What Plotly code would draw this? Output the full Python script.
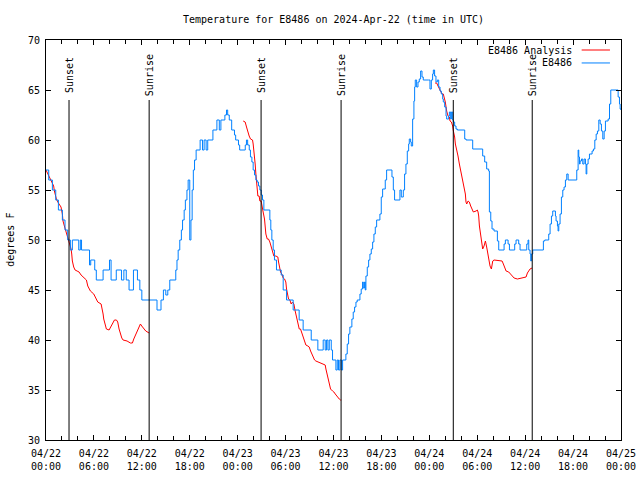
import plotly.graph_objects as go
import pandas as pd

START = pd.Timestamp("2024-04-22 00:00")

# Observed station temperature (hours since 04/22 00:00 UTC, degrees F)
obs_hours = [0.0, 0.34, 0.8, 1.22, 1.55, 2.05, 2.38, 2.72, 3.05, 3.3, 4.1, 4.3, 4.45, 5.45, 5.6, 6.1, 6.3, 7.15, 7.95, 8.15,
             8.8, 9.45, 9.75, 10.05, 10.4, 10.95, 11.45, 11.75, 12.0, 13.9, 14.4, 14.7, 15.0, 15.25, 15.5, 16.25, 16.4,
             16.55, 16.75, 16.95, 17.1, 17.3, 17.45, 17.65, 17.8, 18.0, 18.15, 18.3, 18.45, 18.6, 18.8, 19.3, 19.6, 19.8,
             20.05, 20.25, 20.9, 21.4, 21.7, 21.9, 22.4, 22.6, 22.75, 22.95, 23.25, 23.6, 23.75, 24.1, 24.25, 24.95, 25.1,
             25.25, 25.45, 25.6, 25.78, 25.94, 26.11, 26.28, 26.44, 26.61, 26.78, 26.95, 27.11, 27.28, 28.03, 28.15, 28.28,
             28.45, 28.61, 28.86, 29.45, 29.7, 30.12, 30.95, 31.7, 32.2, 33.21, 34.04, 34.71, 34.96, 35.13, 35.3, 35.47,
             35.72, 35.88, 36.3, 36.47, 36.63, 36.8, 36.97, 37.14, 37.55, 37.72, 37.89, 38.05, 38.3, 38.47, 38.64, 38.81,
             38.97, 39.31, 39.47, 39.64, 39.73, 39.89, 39.98, 40.06, 40.23, 40.4, 40.56, 40.73, 40.9, 41.06, 41.23, 41.4,
             41.81, 41.98, 42.15, 42.48, 42.65, 43.32, 43.49, 43.65, 44.32, 44.49, 44.74, 44.9, 45.07, 45.24, 45.41, 45.49,
             45.66, 45.74, 45.91, 46.07, 46.16, 46.24, 46.41, 46.58, 46.74, 46.91, 47.08, 47.24, 47.91, 48.08, 48.25,
             48.41, 48.5, 48.66, 48.83, 49.0, 49.17, 49.34, 49.5, 49.67, 49.75, 49.92, 50.09, 50.17, 50.42, 50.51, 50.67,
             50.76, 50.92, 51.01, 51.17, 51.34, 51.51, 52.43, 52.6, 53.43, 54.68, 54.93, 55.18, 55.43, 55.52, 55.69, 55.85,
             56.1, 56.52, 56.69, 57.36, 57.52, 57.86, 58.03, 58.69, 58.86, 59.19, 59.36, 60.2, 60.36, 60.45, 60.61, 60.7,
             60.78, 60.95, 62.28, 62.45, 62.95, 63.12, 63.29, 63.45, 63.79, 63.87, 64.04, 64.12, 64.21, 64.37, 64.54,
             64.71, 64.87, 65.04, 65.21, 65.38, 66.46, 66.63, 66.71, 66.8, 66.88, 67.05, 67.21, 67.38, 67.55, 67.63, 67.72,
             67.88, 68.05, 68.38, 68.55, 68.72, 68.89, 69.05, 69.22, 69.39, 69.55, 69.72, 69.89, 70.05, 70.39, 70.56,
             70.72, 71.47, 71.64, 71.81, 71.89, 72.0]
obs_temps = [57, 56, 55, 54, 53, 52, 51, 50, 49, 50, 49, 50, 49, 47.5, 48, 47, 46, 47, 48, 46,
             47, 46, 47, 46, 45, 47, 46, 45, 44, 43, 44, 45, 44.5, 45, 46, 47, 48,
             49, 50, 51, 52, 53, 54, 55, 56, 50, 52, 55, 57, 58, 59, 60, 59, 60,
             59, 60, 61, 62, 61, 62, 62.5, 63, 62.5, 62, 61, 60.5, 60, 59.5, 59, 59.5, 60,
             59.5, 59, 58.3, 57.8, 57, 56.5, 56, 55.8, 55.4, 55, 54.5, 54, 53, 52, 51, 50,
             49, 48, 47, 46.5, 45, 44, 43, 42, 41, 40, 39, 40, 39, 40, 39, 40,
             39, 38, 37, 38, 37, 38, 37, 38, 38.6, 39.6, 40.6, 41.3, 42.1, 42.8, 43.3, 43.8,
             44, 44.6, 45.1, 45.8, 45.2, 45.8, 45, 46.4, 47.3, 48, 48.6, 49.1, 49.8, 50.6, 51.3, 52,
             52.6, 54.3, 55.1, 56, 57, 56.3, 55, 54, 55, 54.3, 55, 56.6, 57.6, 58.9, 59.6, 60.1,
             59.8, 59.4, 62.1, 63.9, 65.3, 66, 65.3, 65.8, 66.1, 66.9, 66.3, 66, 66, 65.1, 66,
             66.6, 67, 66.4, 65.8, 66, 65.3, 64.9, 64.6, 64.1, 63.8, 63.3, 62.4, 62.1, 62.4, 62.8, 62.1,
             62.8, 62, 61.8, 61.4, 61.1, 61, 60.1, 60, 59.1, 58.4, 57.8, 57.1, 56.9, 52.8, 51.9, 51.1,
             50.9, 49.9, 49, 49.6, 50, 49.6, 49, 49.6, 50, 49.6, 49, 49.6, 50, 49, 48.6, 47.9,
             48.6, 49, 49.9, 50, 50.6, 51.6, 52.4, 52.9, 52.4, 51.9, 51.4, 50.9, 51.6, 52.6, 54.3,
             55, 55.3, 56, 56.6, 56, 57, 59, 58.3, 57.6, 57.9, 58.1, 57.6, 58.1, 57.6, 56.6, 57.6,
             58.1, 58.6, 58.9, 59.1, 60, 60.6, 60.9, 62, 61.6, 60.9, 60.1, 60.9, 61.9, 62.1, 63.6,
             65, 65, 64.3, 63.6, 63.1, 63]

# Analysis temperature, three night-time segments
ana1_hours = [0.0, 0.67, 0.96, 1.05, 1.3, 1.55, 1.88, 2.05, 2.13, 2.3, 2.47, 2.64, 2.8, 2.97, 3.14, 3.22, 3.3, 3.47, 3.64,
              3.89, 4.14, 4.39, 4.64, 4.89, 5.06, 5.23, 5.39, 5.56, 5.98, 6.14, 6.31, 6.48, 6.9, 7.06, 7.15, 7.23, 7.4,
              7.56, 7.9, 8.07, 8.23, 8.4, 8.57, 8.82, 8.98, 9.15, 9.32, 9.49, 9.65, 10.15, 10.57, 10.82, 10.99, 11.16,
              11.32, 11.49, 11.66, 11.82, 11.99, 12.16, 12.49, 12.91]
ana1_temps = [57, 55.8, 55.4, 54.9, 54.1, 53.7, 53.3, 52.6, 51.9, 51.4, 50.9, 50.6, 50.1, 49.6, 49.1, 48.6, 47.9, 47.3, 47,
              46.9, 46.8, 46.5, 46.3, 46.2, 46, 45.4, 45.1, 44.9, 44.6, 44.3, 44, 43.8, 43.6, 43.1, 42.6, 42.1, 41.4,
              41.1, 41, 41.3, 41.5, 41.8, 42, 42, 41.8, 41.1, 40.6, 40.2, 40, 39.9, 39.7, 39.7, 40.1, 40.4,
              40.8, 41.1, 41.4, 41.6, 41.4, 41.2, 40.9, 40.7]
ana2_hours = [24.69, 24.94, 25.11, 25.27, 25.44, 25.61, 25.86, 25.94, 26.11, 26.19, 26.28, 26.36, 26.44, 26.53, 26.69,
              26.78, 26.94, 27.03, 27.19, 27.36, 27.44, 27.53, 27.7, 27.86, 28.03, 28.2, 28.36, 28.53, 28.78, 29.03,
              29.12, 29.2, 29.37, 29.53, 29.7, 29.87, 30.03, 30.12, 30.29, 30.37, 30.54, 30.7, 30.87, 31.04, 31.2, 31.37,
              31.54, 31.71, 31.87, 32.04, 32.21, 32.37, 32.54, 32.79, 32.96, 33.13, 33.29, 33.46, 33.63, 33.79, 34.04,
              34.38, 34.71, 34.96, 35.05, 35.21, 35.3, 35.46, 35.63, 35.88, 36.05, 36.22, 36.38, 36.55, 36.72, 36.88, 36.97]
ana2_temps = [61.9, 61.8, 61.3, 60.8, 60.4, 60.1, 60, 59.6, 58.6, 57.6, 56.6, 55.6, 55.1, 54.4, 54.4,
              53.9, 53.9, 53.4, 52.8, 52.1, 51.3, 50.6, 50.1, 50.1, 49.8, 49.3, 48.9, 48.4, 48.4, 48.3,
              47.8, 47.3, 46.8, 46.6, 46.2, 46.1, 45.8, 45.1, 44.6, 44.1, 44, 43.6, 43.8, 43.6, 42.9, 42.3,
              41.6, 41.1, 41.1, 40.7, 40.4, 39.9, 39.5, 39.4, 39.3, 38.9, 38.6, 38.3, 38, 37.9, 37.8,
              37.7, 37.6, 37.5, 37.1, 36.6, 36.1, 35.6, 35.1, 34.9, 34.8, 34.6, 34.4, 34.2, 34.1, 34, 34]
ana3_hours = [48.71, 48.92, 49.09, 49.25, 49.42, 49.59, 49.75, 49.84, 50.0, 50.17, 50.34, 50.51, 50.59, 50.76, 50.92,
              51.01, 51.17, 51.26, 51.42, 51.59, 51.76, 51.93, 52.09, 52.18, 52.34, 52.51, 52.59, 52.68, 52.85, 53.01,
              53.18, 53.35, 53.51, 53.85, 54.01, 54.1, 54.18, 54.27, 54.43, 54.6, 54.68, 54.85, 55.02, 55.18, 55.35,
              55.43, 55.6, 55.77, 55.94, 56.1, 56.86, 57.11, 57.27, 57.44, 57.61, 57.94, 58.28, 58.61, 59.03, 59.86,
              60.11, 60.28, 60.45, 60.61, 60.86]
ana3_temps = [65.7, 65.7, 65.4, 65.1, 64.9, 64.6, 64.6, 64.3, 63.8, 62.9, 62.4, 62.3, 61.9, 61.8, 61.4,
              60.9, 60.3, 59.6, 59.1, 58.4, 57.6, 56.9, 56.1, 55.6, 55.3, 54.6, 53.8, 53.6, 53.9, 53.8,
              53.4, 53.1, 52.8, 52.9, 53, 52.8, 52.4, 51.4, 50.6, 49.9, 49.1, 49.4, 49.9, 49.3, 48.6,
              48.1, 47.4, 47.1, 47.9, 48, 47.9, 47.9, 47.6, 47.3, 46.9, 46.8, 46.5, 46.2, 46.1, 46.2,
              46.3, 46.7, 46.9, 47.1, 47.2]

sun_events = ["2024-04-22 02:53", "2024-04-22 12:55", "2024-04-23 02:56",
              "2024-04-23 12:57", "2024-04-24 03:00", "2024-04-24 12:53"]
sun_labels = ["Sunset", "Sunrise", "Sunset", "Sunrise", "Sunset", "Sunrise"]

FONT = "DejaVu Sans Mono"


def to_time(hours):
    return [START + pd.Timedelta(hours=h) for h in hours]


ana_x = to_time(ana1_hours) + [None] + to_time(ana2_hours) + [None] + to_time(ana3_hours)
ana_y = ana1_temps + [None] + ana2_temps + [None] + ana3_temps

fig = go.Figure()
fig.add_trace(go.Scatter(x=ana_x, y=ana_y, mode="lines", name="E8486 Analysis",
                         line=dict(color="#ff0000", width=1), connectgaps=False))
fig.add_trace(go.Scatter(x=to_time(obs_hours), y=obs_temps, mode="lines", name="E8486",
                         line=dict(color="#0080ff", width=1, shape="hv")))

for t, lab in zip(sun_events, sun_labels):
    fig.add_shape(type="line", xref="x", yref="y", x0=t, x1=t, y0=30, y1=64,
                  line=dict(color="black", width=1))
    fig.add_annotation(x=t, y=66.5, xref="x", yref="y", text=lab, textangle=-90,
                       showarrow=False, xanchor="center", yanchor="middle",
                       font=dict(family=FONT, size=10, color="black"))

# legend (gnuplot style: text then sample)
legend_items = [("E8486 Analysis", "#ff0000", 0.975), ("E8486", "#0080ff", 0.9426)]
for name, col, yy in legend_items:
    fig.add_annotation(x=0.9187, y=yy, xref="paper", yref="paper", text=name, showarrow=False,
                       xanchor="right", yanchor="middle", font=dict(family=FONT, size=10, color="black"))
    fig.add_shape(type="line", xref="paper", yref="paper", x0=0.9316, x1=0.9808, y0=yy, y1=yy,
                  line=dict(color=col, width=1))

fig.add_annotation(x=-0.063, y=0.5, xref="paper", yref="paper", text="degrees F", textangle=-90,
                   showarrow=False, xanchor="center", yanchor="middle",
                   font=dict(family=FONT, size=10, color="black"))

W, H = 640, 480
fig.update_layout(
    width=W, height=H,
    margin=dict(l=46, r=19, t=40, b=40, pad=0, autoexpand=False),
    paper_bgcolor="white", plot_bgcolor="white",
    showlegend=False,
    font=dict(family=FONT, size=10, color="black"),
    title=dict(text="Temperature for E8486 on 2024-Apr-22 (time in UTC)", x=0.5, xref="paper",
               xanchor="center", y=1 - 19 / H, yanchor="middle",
               font=dict(family=FONT, size=10, color="black")),
    xaxis=dict(type="date", range=["2024-04-22 00:00", "2024-04-25 00:00"], automargin=False,
               dtick=6 * 3600 * 1000, tick0="2024-04-22 00:00", tickformat="%m/%d<br>%H:%M",
               ticks="inside", ticklen=5, tickcolor="black", mirror="ticks", showline=True,
               linecolor="black", linewidth=1, showgrid=False, zeroline=False, ticklabelstandoff=4,
               minor=dict(dtick=2 * 3600 * 1000, ticks="inside", ticklen=4, tickcolor="black", showgrid=False),
               tickfont=dict(family=FONT, size=10)),
    yaxis=dict(range=[30, 70], dtick=5, ticks="inside", ticklen=5, tickcolor="black", automargin=False,
               mirror="ticks", showline=True, linecolor="black", linewidth=1, showgrid=False,
               zeroline=False, ticklabelstandoff=3, tickfont=dict(family=FONT, size=10)),
)

# remove the browser's default 8px page margin so the 640x480 figure fills the window
fig.write_html("out.html", config={"displayModeBar": False},
               post_script="document.body.style.margin='0px';")
